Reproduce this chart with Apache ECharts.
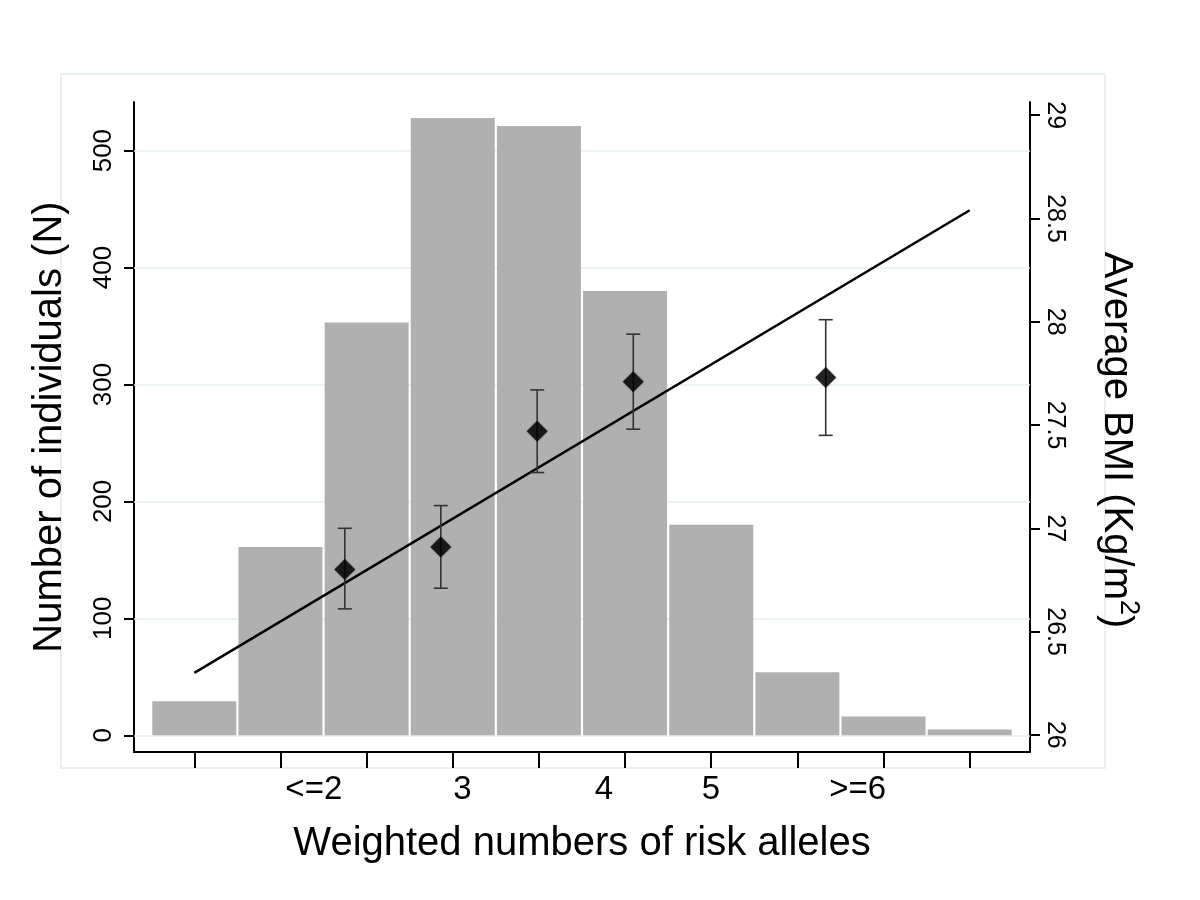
<!DOCTYPE html>
<html><head><meta charset="utf-8">
<script src="https://cdn.jsdelivr.net/npm/echarts@6/dist/echarts.min.js"></script>
<style>html,body{margin:0;padding:0;background:#fff}#c{width:1200px;height:900px}</style>
</head><body><div id="c"></div>
<script>
// ---- data ----
const binPositions = [1, 2, 3, 4, 5, 6, 7, 8, 9, 10];
const binCounts = [29, 161, 353, 528, 521, 380, 180, 54, 16, 5];
const groupLabels = ['<=2', '3', '4', '5', '>=6'];
const groupLabelPositions = [2.387, 4.113, 5.754, 6.997, 8.70];
const bmiPositions = [2.747, 3.861, 4.980, 6.095, 8.329];
const bmiMean = [26.80, 26.91, 27.47, 27.71, 27.73];
const bmiLow = [26.61, 26.71, 27.27, 27.48, 27.45];
const bmiHigh = [27.00, 27.11, 27.67, 27.94, 28.01];
const fitX = [1, 10];
const fitY = [26.30, 28.54];
const countTicks = [0, 100, 200, 300, 400, 500];
const bmiTicks = [26, 26.5, 27, 27.5, 28, 28.5, 29];

const FONT = '"Liberation Sans", Arial, Helvetica, sans-serif';
const chart = echarts.init(document.getElementById('c'), null, {renderer: 'canvas'});

const barData = binPositions.map((x, i) => [x, binCounts[i]]);
const meanData = bmiPositions.map((x, i) => [x, bmiMean[i]]);
const errData = bmiPositions.map((x, i) => [x, bmiLow[i], bmiHigh[i]]);
const fitData = fitX.map((x, i) => [x, fitY[i]]);

chart.setOption({
  backgroundColor: '#ffffff',
  animation: false,
  textStyle: {fontFamily: FONT},
  graphic: [{
    type: 'rect', z: -10, silent: true,
    shape: {x: 61, y: 74, width: 1044, height: 694},
    style: {fill: 'none', stroke: '#e8f1f1', lineWidth: 2}
  }],
  grid: {left: 134, right: 170, top: 102, bottom: 148, containLabel: false},
  xAxis: {
    type: 'value', min: 0.3, max: 10.7,
    name: 'Weighted numbers of risk alleles',
    nameLocation: 'middle', nameGap: 72,
    nameMoveOverlap: false,
    nameTextStyle: {fontSize: 40, color: '#000', fontFamily: FONT},
    axisLine: {show: true, onZero: false, lineStyle: {color: '#000', width: 2}},
    axisTick: {show: true, customValues: binPositions, length: 16, lineStyle: {color: '#000', width: 2}},
    axisLabel: {
      show: true, customValues: groupLabelPositions, margin: 21,
      fontSize: 33, color: '#000', fontFamily: FONT,
      formatter: function (v) {
        let best = 0;
        groupLabelPositions.forEach((p, i) => { if (Math.abs(p - v) < Math.abs(groupLabelPositions[best] - v)) best = i; });
        return groupLabels[best];
      }
    },
    splitLine: {show: false}
  },
  yAxis: [{
    type: 'value', min: -14.3, max: 541.6, position: 'left',
    name: 'Number of individuals (N)',
    nameLocation: 'middle', nameRotate: 90, nameGap: 64,
    nameMoveOverlap: false,
    nameTextStyle: {fontSize: 40, color: '#000', fontFamily: FONT},
    axisLine: {show: true, onZero: false, lineStyle: {color: '#000', width: 2}},
    axisTick: {show: true, customValues: countTicks, length: 10, lineStyle: {color: '#000', width: 2}},
    axisLabel: {show: true, customValues: countTicks, rotate: 90, margin: 17, fontSize: 26, color: '#000', fontFamily: FONT},
    splitLine: {show: false}
  }, {
    type: 'value', min: 25.917, max: 29.064, position: 'right',
    name: '{t|Average BMI (Kg/m}{s|2}{t|)}',
    nameLocation: 'middle', nameRotate: -90, nameGap: 66,
    nameMoveOverlap: false,
    nameTextStyle: {
      fontSize: 40, color: '#000', fontFamily: FONT,
      padding: [0, 0, 0, 26],
      rich: {
        t: {fontSize: 40, color: '#000', fontFamily: FONT, lineHeight: 46, verticalAlign: 'bottom'},
        s: {fontSize: 27, color: '#000', fontFamily: FONT, lineHeight: 46, verticalAlign: 'top'}
      }
    },
    axisLine: {show: true, onZero: false, lineStyle: {color: '#000', width: 2}},
    axisTick: {show: true, customValues: bmiTicks, length: 10, lineStyle: {color: '#000', width: 2}},
    axisLabel: {show: true, customValues: bmiTicks, rotate: -90, margin: 12, fontSize: 25, color: '#000', fontFamily: FONT},
    splitLine: {show: false}
  }],
  series: [{
    type: 'bar', xAxisIndex: 0, yAxisIndex: 0, z: 2,
    data: barData, barWidth: 84,
    itemStyle: {color: '#b0b0b0'},
    silent: true,
    markLine: {
      z: 1, silent: true, symbol: ['none', 'none'],
      label: {show: false},
      lineStyle: {color: '#e6efef', width: 1.5, type: 'solid'},
      emphasis: {disabled: true},
      data: countTicks.map(v => ({yAxis: v}))
    }
  }, {
    type: 'line', xAxisIndex: 0, yAxisIndex: 1, z: 4,
    data: fitData, showSymbol: false, symbol: 'none',
    lineStyle: {color: '#000', width: 2.5}, silent: true
  }, {
    type: 'custom', xAxisIndex: 0, yAxisIndex: 1, z: 5,
    data: errData, silent: true,
    renderItem: function (params, api) {
      const x = api.value(0);
      const lo = api.coord([x, api.value(1)]);
      const hi = api.coord([x, api.value(2)]);
      const w = 7;
      const st = {stroke: '#333', lineWidth: 1.6};
      return {type: 'group', children: [
        {type: 'line', shape: {x1: lo[0], y1: lo[1], x2: hi[0], y2: hi[1]}, style: st},
        {type: 'line', shape: {x1: lo[0] - w, y1: lo[1], x2: lo[0] + w, y2: lo[1]}, style: st},
        {type: 'line', shape: {x1: hi[0] - w, y1: hi[1], x2: hi[0] + w, y2: hi[1]}, style: st}
      ]};
    }
  }, {
    type: 'scatter', xAxisIndex: 0, yAxisIndex: 1, z: 6,
    data: meanData, symbol: 'diamond', symbolSize: 21, silent: true,
    itemStyle: {color: '#000', shadowBlur: 2, shadowColor: 'rgba(0,0,0,0.4)'}
  }]
});
</script></body></html>
